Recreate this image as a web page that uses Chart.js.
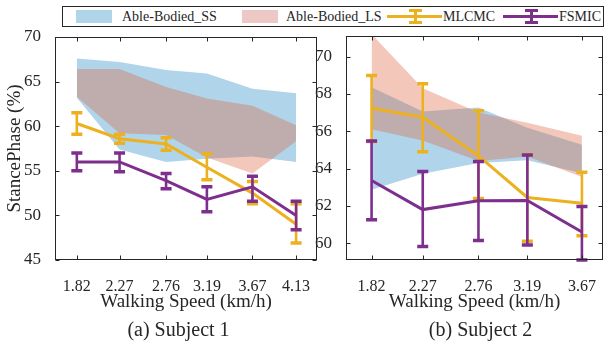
<!DOCTYPE html>
<html lang="en">
<head>
<meta charset="UTF-8">
<title>Stance phase vs walking speed</title>
<script src="https://cdn.jsdelivr.net/npm/chart.js"></script>
<style>
  body {
    margin: 0;
    width: 605px;
    height: 342px;
    position: relative;
    overflow: hidden;
    background: #fff;
    font-family: 'Liberation Serif', 'Times New Roman', serif;
    color: #262626;
  }
  canvas { position: absolute; top: 0; }
  #chartA { left: 0; }
  #chartB { left: 300px; }
  .legend-box {
    position: absolute;
    left: 62px; top: 6px;
    width: 540px; height: 19px;
    border: 1px solid #262626;
    background: #fff;
  }
  .abs { position: absolute; }
  .swatch { top: 10px; height: 13px; width: 36px; }
  .ltext { top: 6px; height: 21px; line-height: 21px; font-size: 14px; white-space: nowrap; }
  .sub { top: 317px; height: 24px; line-height: 24px; font-size: 20px; text-align: center; white-space: nowrap; }
</style>
</head>
<body>
<canvas id="chartA" width="320" height="342"></canvas>
<canvas id="chartB" width="305" height="342"></canvas>

<div class="legend-box"></div>
<div class="abs swatch" style="left:76px;background:rgb(176,212,234)"></div>
<div class="abs ltext" style="left:122px">Able-Bodied_SS</div>
<div class="abs swatch" style="left:242px;background:rgb(238,200,196)"></div>
<div class="abs ltext" style="left:286px">Able-Bodied_LS</div>
<div id="iconM"></div>
<div class="abs ltext" style="left:443px">MLCMC</div>
<div id="iconF"></div>
<div class="abs ltext" style="left:559px">FSMIC</div>

<div class="abs sub" style="left:0;width:357px">(a) Subject 1</div>
<div class="abs sub" style="left:380px;width:201px">(b) Subject 2</div>

<script>
// ---- data: subject 1 ----
const speedsA = [1.82, 2.27, 2.76, 3.19, 3.67, 4.13];
const ssHighA = [67.6, 67.2, 66.3, 65.9, 64.2, 63.7];
const ssLowA  = [63.2, 57.4, 56.0, 56.35, 56.6, 56.0];
const lsHighA = [66.4, 66.4, 64.4, 63.1, 62.3, 60.1];
const lsLowA  = [63.3, 59.2, 59.0, 56.5, 54.7, 58.3];
const mlcA    = [60.3, 58.6, 58.0, 55.4, 52.5, 49.0];
const mlcHiA  = [61.5, 59.1, 58.7, 56.9, 53.8, 51.3];
const mlcLoA  = [59.1, 58.1, 57.3, 54.0, 51.3, 46.9];
const fsmA    = [56.0, 56.0, 53.9, 51.8, 53.2, 50.0];
const fsmHiA  = [57.0, 57.0, 54.7, 53.2, 54.4, 51.6];
const fsmLoA  = [55.0, 54.9, 53.0, 50.4, 51.6, 48.4];
const yTicksA = [45, 50, 55, 60, 65, 70];

// ---- data: subject 2 ----
const speedsB = [1.82, 2.27, 2.76, 3.19, 3.67];
const ssHighB = [68.35, 67.05, 67.27, 66.18, 65.27];
const ssLowB  = [62.86, 63.72, 64.3, 64.45, 63.75];
const lsHighB = [71.2, 68.3, 67.0, 66.45, 65.75];
const lsLowB  = [66.1, 65.5, 64.4, 64.65, 63.55];
const mlcB    = [67.23, 66.75, 64.68, 62.45, 62.14];
const mlcHiB  = [68.98, 68.54, 67.1, 64.75, 63.8];
const mlcLoB  = [65.45, 64.9, 62.4, 60.1, 60.4];
const fsmB    = [63.36, 61.8, 62.27, 62.29, 60.6];
const fsmHiB  = [65.48, 63.84, 64.38, 64.73, 61.96];
const fsmLoB  = [61.25, 59.82, 60.14, 59.9, 59.1];
const yTicksB = [60, 62, 64, 66, 68, 70];

const FONT = "'Liberation Serif', 'Times New Roman', serif";
const INK = '#262626';
const BLUE = 'rgb(176,212,234)';
const PINK = 'rgba(221,98,58,0.35)';
const YELLOW = '#EDB120';
const PURPLE = '#7E2F8E';

// legend icons (line with error bar)
function legendIcon(id, left, color) {
    const el = document.getElementById(id);
    const parts = [
        [left, 15, 55, 3],            // line
        [left + 26.5, 9, 3, 15],      // vertical bar
        [left + 21.5, 8.5, 13, 3.5],  // top cap
        [left + 21.5, 20.5, 13, 3.5]  // bottom cap
    ];
    parts.forEach(([x, y, w, h]) => {
        const d = document.createElement('div');
        d.className = 'abs';
        d.style.cssText = `left:${x}px;top:${y}px;width:${w}px;height:${h}px;background:${color}`;
        el.appendChild(d);
    });
}
legendIcon('iconM', 387, YELLOW);
legendIcon('iconF', 503, PURPLE);

const pts = (xs, ys) => xs.map((x, i) => ({ x, y: ys[i] }));

// error bars drawn right after each line dataset
const errorBars = {
    id: 'errorBars',
    afterDatasetDraw(chart, args) {
        const ds = chart.data.datasets[args.index];
        if (!ds.errHi) return;
        const { ctx } = chart;
        const xs = chart.scales.x, ys = chart.scales.y;
        ctx.save();
        ctx.strokeStyle = ds.borderColor;
        ds.data.forEach((p, i) => {
            const px = xs.getPixelForValue(p.x);
            const hi = ys.getPixelForValue(ds.errHi[i]);
            const lo = ys.getPixelForValue(ds.errLo[i]);
            ctx.lineWidth = 2.6;
            ctx.beginPath();
            ctx.moveTo(px, hi);
            ctx.lineTo(px, lo);
            ctx.stroke();
            ctx.lineWidth = 3.5;
            ctx.beginPath();
            ctx.moveTo(px - 5.5, hi); ctx.lineTo(px + 5.5, hi);
            ctx.moveTo(px - 5.5, lo); ctx.lineTo(px + 5.5, lo);
            ctx.stroke();
        });
        ctx.restore();
    }
};

// box round the plot with inward ticks on all four sides
const frame = {
    id: 'frame',
    afterDraw(chart) {
        const { ctx, chartArea: a } = chart;
        const xs = chart.scales.x, ys = chart.scales.y;
        const L = Math.round(a.left) + 0.5, R = Math.round(a.right) - 0.5;
        const T = Math.round(a.top) + 0.5, B = Math.round(a.bottom) - 0.5;
        ctx.save();
        ctx.strokeStyle = INK;
        ctx.lineWidth = 1;
        ctx.strokeRect(L, T, R - L, B - T);
        ctx.beginPath();
        xs.ticks.forEach(t => {
            const x = Math.round(xs.getPixelForValue(t.value)) + 0.5;
            ctx.moveTo(x, B); ctx.lineTo(x, B - 4);
            ctx.moveTo(x, T); ctx.lineTo(x, T + 4);
        });
        ys.ticks.forEach(t => {
            const y = Math.round(ys.getPixelForValue(t.value)) + 0.5;
            ctx.moveTo(L, y); ctx.lineTo(L + 4, y);
            ctx.moveTo(R, y); ctx.lineTo(R - 4, y);
        });
        ctx.stroke();
        ctx.restore();
    }
};

function makeChart(id, c) {
    const band = (data, fill, color, order) => ({
        data, fill, backgroundColor: color, borderColor: 'rgba(0,0,0,0)',
        borderWidth: 0, pointRadius: 0, order
    });
    const line = (data, hi, lo, color, order) => ({
        data, errHi: hi, errLo: lo, borderColor: color, backgroundColor: color,
        borderWidth: 3, pointRadius: 0, fill: false, order
    });
    return new Chart(document.getElementById(id), {
        type: 'line',
        data: {
            datasets: [
                band(pts(c.speeds, c.ssHigh), false, BLUE, 5),
                band(pts(c.speeds, c.ssLow), 0, BLUE, 5),
                band(pts(c.speeds, c.lsHigh), false, PINK, 4),
                band(pts(c.speeds, c.lsLow), 2, PINK, 4),
                line(pts(c.speeds, c.mlc), c.mlcHi, c.mlcLo, YELLOW, 2),
                line(pts(c.speeds, c.fsm), c.fsmHi, c.fsmLo, PURPLE, 1)
            ]
        },
        options: {
            responsive: false,
            animation: false,
            layout: { padding: { top: c.top, right: c.right, bottom: 25, left: 0 } },
            plugins: { legend: { display: false }, tooltip: { enabled: false } },
            scales: {
                x: {
                    type: 'linear', min: c.xMin, max: c.xMax,
                    grid: { display: false }, border: { display: false },
                    afterBuildTicks: s => { s.ticks = c.speeds.map(v => ({ value: v })); },
                    afterFit: s => { s.height = 57; },
                    ticks: {
                        color: INK, padding: 9, maxRotation: 0, autoSkip: false,
                        font: { family: FONT, size: 16 },
                        callback: v => v.toFixed(2)
                    },
                    title: {
                        display: true, text: 'Walking Speed (km/h)', color: INK,
                        font: { family: FONT, size: 19 }, padding: { top: 0, bottom: 4 }
                    }
                },
                y: {
                    min: c.yMin, max: c.yMax,
                    grid: { display: false }, border: { display: false },
                    afterBuildTicks: s => { s.ticks = c.yTicks.map(v => ({ value: v })); },
                    afterFit: s => { s.width = c.yWidth; },
                    ticks: { color: INK, padding: 6, font: { family: FONT, size: 17 } },
                    title: {
                        display: c.yTitle, text: 'StancePhase (%)', color: INK,
                        font: { family: FONT, size: 19 }, padding: { top: 4, bottom: 0 }
                    }
                }
            }
        },
        plugins: [errorBars, frame]
    });
}

makeChart('chartA', {
    speeds: speedsA, ssHigh: ssHighA, ssLow: ssLowA, lsHigh: lsHighA, lsLow: lsLowA,
    mlc: mlcA, mlcHi: mlcHiA, mlcLo: mlcLoA, fsm: fsmA, fsmHi: fsmHiA, fsmLo: fsmLoA,
    yTicks: yTicksA, xMin: 1.59, xMax: 4.35, yMin: 45, yMax: 70,
    top: 37, right: 3, yWidth: 55, yTitle: true
});

makeChart('chartB', {
    speeds: speedsB, ssHigh: ssHighB, ssLow: ssLowB, lsHigh: lsHighB, lsLow: lsLowB,
    mlc: mlcB, mlcHi: mlcHiB, mlcLo: mlcLoB, fsm: fsmB, fsmHi: fsmHiB, fsmLo: fsmLoB,
    yTicks: yTicksB, xMin: 1.595, xMax: 3.857, yMin: 59.1, yMax: 71.1,
    top: 36, right: 1, yWidth: 46, yTitle: false
});
</script>
</body>
</html>
